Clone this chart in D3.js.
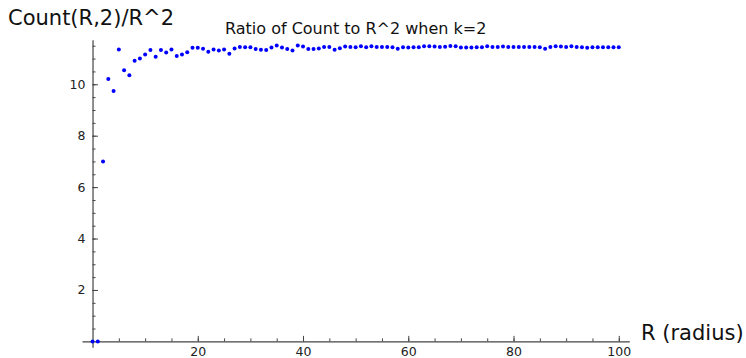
<!DOCTYPE html>
<html>
<head>
<meta charset="utf-8">
<script src="https://cdn.jsdelivr.net/npm/d3@7"></script>
<style>
  body { margin: 0; background: #fff; }
  svg { display: block; font-family: "DejaVu Sans", sans-serif; }
</style>
</head>
<body>
<div class="chart-wrapper"></div>
<script>
// radius values R = 0..100
const radii = d3.range(0, 101);

// Count(R,2)/R^2
const ratios = [
  0, 0, 7.0, 10.21, 9.74, 11.35, 10.55, 10.35, 10.92, 11.0,
  11.16, 11.33, 11.07, 11.33, 11.24, 11.35, 11.10, 11.16, 11.25, 11.42,
  11.42, 11.38, 11.27, 11.35, 11.31, 11.35, 11.19, 11.39, 11.45, 11.44,
  11.44, 11.37, 11.34, 11.33, 11.43, 11.51, 11.43, 11.37, 11.31, 11.51,
  11.47, 11.37, 11.37, 11.39, 11.45, 11.45, 11.34, 11.40, 11.47, 11.45,
  11.44, 11.48, 11.44, 11.48, 11.45, 11.45, 11.45, 11.44, 11.38, 11.44,
  11.43, 11.44, 11.44, 11.48, 11.48, 11.47, 11.45, 11.46, 11.49, 11.48,
  11.43, 11.43, 11.43, 11.44, 11.44, 11.48, 11.45, 11.45, 11.47, 11.45,
  11.45, 11.45, 11.45, 11.45, 11.45, 11.44, 11.38, 11.45, 11.48, 11.47,
  11.45, 11.48, 11.45, 11.44, 11.42, 11.44, 11.44, 11.44, 11.44, 11.44,
  11.44
];

const xMajorTicks = [20, 40, 60, 80, 100];
const yMajorTicks = [2, 4, 6, 8, 10];

const titleText = 'Ratio of Count to R^2 when k=2';
const xLabelText = 'R (radius)';
const yLabelText = 'Count(R,2)/R^2';

const data = radii.map((r, i) => ({r: r, v: ratios[i]}));

const width = 746, height = 358;
const axisColor = '#444';

const x = d3.scaleLinear().domain([-2, 102]).range([82, 629.3]);
const y = d3.scaleLinear().domain([-0.23, 11.73]).range([347.3, 39.8]);

const svg = d3.select('.chart-wrapper')
  .append('svg')
  .attr('width', width)
  .attr('height', height);

// axes cross at the origin
const x0 = x(0), y0 = y(0);

// minor ticks
svg.append('g')
  .attr('transform', `translate(0,${y0})`)
  .call(d3.axisBottom(x).tickValues(d3.range(5, 101, 5)).tickSizeInner(-3).tickSizeOuter(0).tickFormat(''))
  .call(g => g.select('.domain').remove())
  .call(g => g.selectAll('line').attr('stroke', axisColor));

svg.append('g')
  .attr('transform', `translate(${x0},0)`)
  .call(d3.axisLeft(y).tickValues(d3.range(0.5, 11.6, 0.5)).tickSizeInner(-3).tickSizeOuter(0).tickFormat(''))
  .call(g => g.select('.domain').remove())
  .call(g => g.selectAll('line').attr('stroke', axisColor));

// major ticks with labels
const xAxis = svg.append('g')
  .attr('transform', `translate(0,${y0})`)
  .call(d3.axisBottom(x).tickValues(xMajorTicks).tickSizeInner(-5.5).tickSizeOuter(0).tickPadding(6))
  .call(g => g.select('.domain').attr('stroke', axisColor).attr('stroke-width', 1.2))
  .call(g => g.selectAll('line').attr('stroke', axisColor))
  .call(g => g.selectAll('text').attr('font-size', 12.5).attr('fill', '#222')
    .attr('font-family', '"DejaVu Sans", sans-serif'));

const yAxis = svg.append('g')
  .attr('transform', `translate(${x0},0)`)
  .call(d3.axisLeft(y).tickValues(yMajorTicks).tickSizeInner(-5.5).tickSizeOuter(0).tickPadding(7))
  .call(g => g.select('.domain').attr('stroke', axisColor).attr('stroke-width', 1.2))
  .call(g => g.selectAll('line').attr('stroke', axisColor))
  .call(g => g.selectAll('text').attr('font-size', 12.5).attr('fill', '#222')
    .attr('font-family', '"DejaVu Sans", sans-serif'));

// points
svg.append('g')
  .selectAll('circle')
  .data(data)
  .join('circle')
  .attr('cx', d => x(d.r))
  .attr('cy', d => y(d.v))
  .attr('r', 2)
  .attr('fill', '#0000ff');

// title and axis labels
svg.append('text')
  .attr('x', (x.range()[0] + x.range()[1]) / 2)
  .attr('y', 34)
  .attr('text-anchor', 'middle')
  .attr('font-size', 16)
  .attr('fill', '#111')
  .text(titleText);

svg.append('text')
  .attr('x', 8)
  .attr('y', 25)
  .attr('font-size', 21)
  .attr('fill', '#111')
  .text(yLabelText);

svg.append('text')
  .attr('x', 641)
  .attr('y', 339.5)
  .attr('font-size', 21)
  .attr('fill', '#111')
  .text(xLabelText);
</script>
</body>
</html>
